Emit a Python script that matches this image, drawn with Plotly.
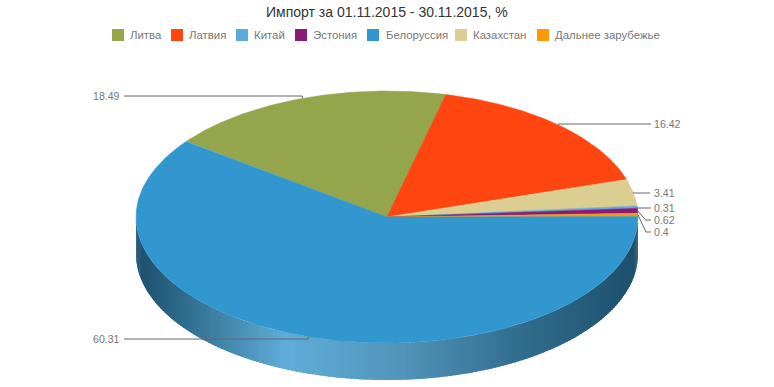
import numpy as np
import plotly.graph_objects as go

# Data (legend order)
categories = ["Литва", "Латвия", "Китай", "Эстония", "Белоруссия", "Казахстан", "Дальнее зарубежье"]
values = [18.49, 16.42, 0.31, 0.62, 60.31, 3.41, 0.4]
colors = ["#95a54c", "#ff4510", "#5dabd8", "#8a1a78", "#3397cf", "#dccd90", "#ff9900"]
# Clockwise order of the slices round the pie
pie_order = [0, 1, 5, 2, 3, 6, 4]
title = "Импорт за 01.11.2015 - 30.11.2015, %"

# Layout (pixel-like axes)
W, H = 774, 387
CX, CY, RX, RY, DEPTH = 387.0, 217.0, 251.0, 126.0, 37.0
START = -53.0
legend_swatch_x = [112, 171, 236, 295, 367, 455, 537]
legend_text_x = [129, 188, 253.3, 312.3, 385, 472.3, 554.3]
# category index -> (label y, elbow offset, connector end x, label x, anchor)
label_layout = {
    0: (96, 0, 124, 121, "right"),
    1: (124, 0, 651, 653, "left"),
    5: (193, 0, 650, 653, "left"),
    2: (208, 0, 651, 653, "left"),
    3: (220, 8, 651, 653, "left"),
    6: (232, 8, 651, 653, "left"),
    4: (339, 0, 124, 121, "right"),
}
wall_stops_x = [136, 150, 285, 400, 510, 638]
wall_stops_rgb = [(29, 82, 112), (33, 87, 117), (94, 173, 216), (82, 148, 186), (52, 112, 146), (28, 79, 107)]
LEGEND_FONT = dict(family="Liberation Sans", size=11.4, color="#777777")
LABEL_FONT = dict(family="Liberation Sans", size=10.6, color="#777777")


def pt(theta_deg, dy=0.0):
    t = np.radians(theta_deg)
    return CX + RX * np.sin(t), CY - RY * np.cos(t) + dy


def wall_color(x):
    return "rgb(%d,%d,%d)" % tuple(
        int(round(np.interp(x, wall_stops_x, [c[i] for c in wall_stops_rgb]))) for i in range(3)
    )


fig = go.Figure()

# slice angle ranges from the values
ranges = {}
a = START
for i in pie_order:
    ranges[i] = (a, a + values[i] * 3.6)
    a += values[i] * 3.6

# side wall, gradient strips on the visible (front) half
for i in pie_order:
    a0, a1 = ranges[i]
    lo, hi = max(a0, 90), min(a1, 270)
    if hi <= lo:
        continue
    n = max(2, int((hi - lo) / 1.0))
    edges = np.linspace(lo, hi, n + 1)
    for k in range(n):
        # overlap the next strip a little to hide seams
        th = np.linspace(edges[k], min(edges[k] + (edges[1] - edges[0]) * 1.6, hi), 4)
        xt, yt = pt(th)
        xb, yb = pt(th, DEPTH)
        xs = np.concatenate([xt, xb[::-1]])
        ys = np.concatenate([yt, yb[::-1]])
        fig.add_trace(go.Scatter(x=xs, y=ys, mode="lines", fill="toself", line=dict(width=0),
                                 fillcolor=wall_color(float(np.mean(xt))), showlegend=False,
                                 hoverinfo="skip"))

# top faces
for i in pie_order:
    a0, a1 = ranges[i]
    th = np.linspace(a0, a1, max(3, int(a1 - a0) * 2))
    x, y = pt(th)
    fig.add_trace(go.Scatter(x=np.r_[CX, x, CX], y=np.r_[CY, y, CY], mode="lines", fill="toself",
                             line=dict(width=0.5, color=colors[i]), fillcolor=colors[i],
                             name=categories[i], showlegend=False, hoverinfo="name"))

annotations = []
# connectors and data labels
for i in pie_order:
    a0, a1 = ranges[i]
    ex, ey = pt((a0 + a1) / 2)
    ly, off, endx, lx, anchor = label_layout[i]
    fig.add_trace(go.Scatter(x=[ex, ex + off, endx], y=[ey, ly, ly], mode="lines",
                             line=dict(color="#666666", width=1), showlegend=False, hoverinfo="skip"))
    annotations.append(dict(x=lx, y=ly, xref="x", yref="y", text=str(values[i]), showarrow=False,
                            xanchor=anchor, yanchor="middle", font=LABEL_FONT, borderpad=0))

# legend
shapes = []
for name, col, sx, tx in zip(categories, colors, legend_swatch_x, legend_text_x):
    shapes.append(dict(type="rect", xref="x", yref="y", x0=sx, x1=sx + 12, y0=29, y1=41,
                       fillcolor=col, line=dict(width=0), layer="above"))
    annotations.append(dict(x=tx, y=34.5, xref="x", yref="y", text=name, showarrow=False,
                            xanchor="left", yanchor="middle", font=LEGEND_FONT, borderpad=0))

annotations.append(dict(x=387, y=11.5, xref="x", yref="y", text=title, showarrow=False,
                        xanchor="center", yanchor="middle", borderpad=0,
                        font=dict(family="Liberation Sans", size=14, color="#333333")))

fig.update_layout(
    width=W, height=H, margin=dict(l=0, r=0, t=0, b=0), autosize=False,
    paper_bgcolor="white", plot_bgcolor="white", showlegend=False,
    xaxis=dict(range=[0, W], visible=False, fixedrange=True),
    yaxis=dict(range=[H, 0], visible=False, fixedrange=True),
    shapes=shapes, annotations=annotations,
)
fig.write_html("out.html", config=dict(displayModeBar=False),
               post_script="document.body.style.margin='0';document.body.style.overflow='hidden';")
